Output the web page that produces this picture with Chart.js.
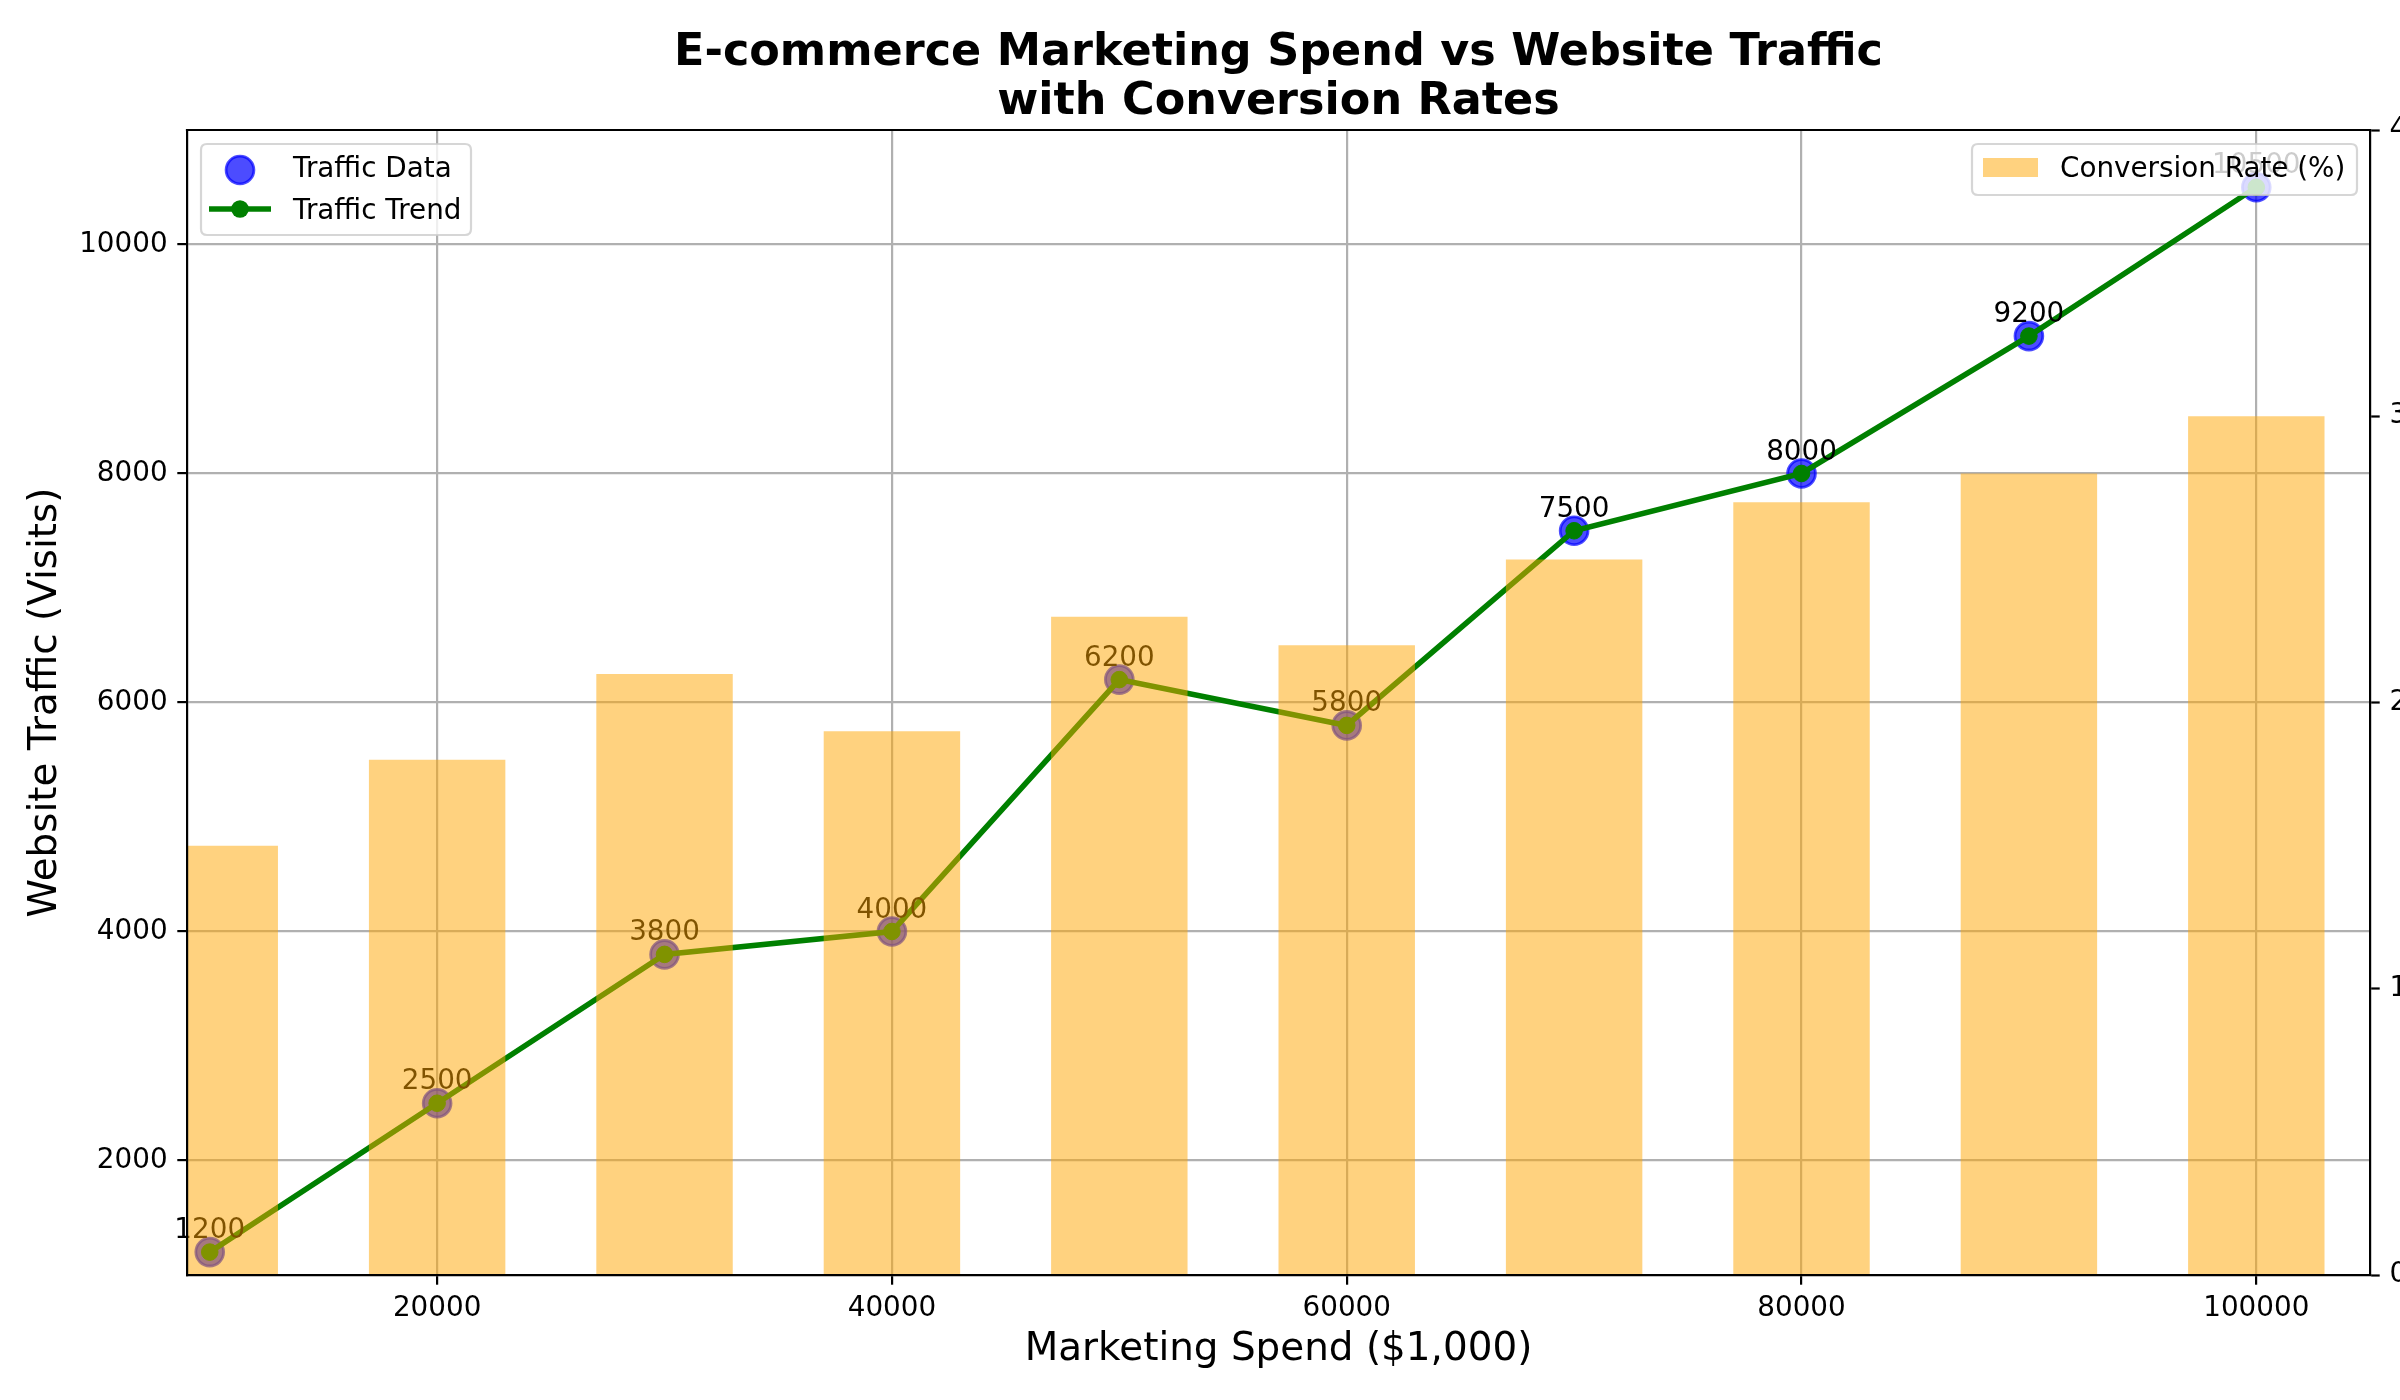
<!DOCTYPE html>
<html><head><meta charset="utf-8">
<script src="https://cdn.jsdelivr.net/npm/chart.js@4.4.0/dist/chart.umd.min.js"></script>
<style>html,body{margin:0;padding:0;background:#fff;overflow:hidden}canvas{display:block}</style>
</head><body>
<canvas id="c" width="2400" height="1400"></canvas>
<script>
// ---- data ----
const spend = [10000, 20000, 30000, 40000, 50000, 60000, 70000, 80000, 90000, 100000];
const traffic = [1200, 2500, 3800, 4000, 6200, 5800, 7500, 8000, 9200, 10500];
const conversion = [1.5, 1.8, 2.1, 1.9, 2.3, 2.2, 2.5, 2.7, 2.8, 3.0];
const xTicks = [20000, 40000, 60000, 80000, 100000];
const yTicks = [2000, 4000, 6000, 8000, 10000];
const y2Ticks = [0, 1, 2, 3, 4];
const titleLines = ['E-commerce Marketing Spend vs Website Traffic', 'with Conversion Rates'];

const FONT = "'DejaVu Sans', sans-serif";
Chart.defaults.font.family = FONT;
Chart.defaults.color = '#000';
const tickFont = {family: FONT, size: 27.8};
const GRID = '#b0b0b0';

function rr(ctx, x, y, w, h, r) {
  ctx.beginPath();
  ctx.moveTo(x + r, y);
  ctx.lineTo(x + w - r, y); ctx.quadraticCurveTo(x + w, y, x + w, y + r);
  ctx.lineTo(x + w, y + h - r); ctx.quadraticCurveTo(x + w, y + h, x + w - r, y + h);
  ctx.lineTo(x + r, y + h); ctx.quadraticCurveTo(x, y + h, x, y + h - r);
  ctx.lineTo(x, y + r); ctx.quadraticCurveTo(x, y, x + r, y);
  ctx.closePath();
}
function legendBox(ctx, x, y, w, h) {
  rr(ctx, x, y, w, h, 6);
  ctx.fillStyle = 'rgba(255,255,255,0.8)';
  ctx.fill();
  ctx.lineWidth = 2.2;
  ctx.strokeStyle = 'rgba(204,204,204,0.8)';
  ctx.stroke();
}

const annotPlugin = {
  id: 'annot',
  afterDatasetDraw(chart, args) {
    if (args.index !== 2) return;
    const ctx = chart.ctx;
    const meta = chart.getDatasetMeta(1);
    ctx.save();
    ctx.font = '27.8px ' + FONT;
    ctx.fillStyle = '#000';
    ctx.textAlign = 'center';
    ctx.textBaseline = 'alphabetic';
    meta.data.forEach((pt, i) => {
      ctx.fillText(String(traffic[i]), pt.x, pt.y - 14);
    });
    ctx.restore();
  }
};

const decorPlugin = {
  id: 'decor',
  beforeDraw(chart) {
    const ctx = chart.ctx;
    ctx.save();
    ctx.fillStyle = '#fff';
    ctx.fillRect(0, 0, chart.width, chart.height);
    ctx.restore();
  },
  afterDraw(chart) {
    const ctx = chart.ctx;
    const a = chart.chartArea;
    ctx.save();
    // top spine
    ctx.strokeStyle = '#000';
    ctx.lineWidth = 2.2;
    ctx.beginPath();
    ctx.moveTo(a.left - 1.1, a.top);
    ctx.lineTo(a.right + 1.1, a.top);
    ctx.stroke();
    // title
    ctx.fillStyle = '#000';
    ctx.textAlign = 'center';
    ctx.textBaseline = 'alphabetic';
    ctx.font = 'bold 44.5px ' + FONT;
    const cx = (a.left + a.right) / 2;
    ctx.fillText(titleLines[0], cx, 64.5);
    ctx.fillText(titleLines[1], cx, 113.5);
    // left legend
    legendBox(ctx, 201, 144, 270, 91);
    ctx.beginPath();
    ctx.arc(240, 170, 13.9, 0, Math.PI * 2);
    ctx.fillStyle = 'rgba(0,0,255,0.7)';
    ctx.fill();
    ctx.lineWidth = 2.8;
    ctx.strokeStyle = 'rgba(0,0,255,0.7)';
    ctx.stroke();
    ctx.beginPath();
    ctx.moveTo(209, 209); ctx.lineTo(271, 209);
    ctx.lineWidth = 5.56; ctx.strokeStyle = '#008000'; ctx.stroke();
    ctx.beginPath();
    ctx.arc(240, 209, 8.8, 0, Math.PI * 2);
    ctx.fillStyle = '#008000'; ctx.fill();
    ctx.font = '27.8px ' + FONT;
    ctx.fillStyle = '#000';
    ctx.textAlign = 'left';
    ctx.fillText('Traffic Data', 293, 177);
    ctx.fillText('Traffic Trend', 293, 219);
    // right legend
    legendBox(ctx, 1972, 144, 385, 51);
    ctx.fillStyle = 'rgba(255,165,0,0.5)';
    ctx.fillRect(1983, 158, 55, 19);
    ctx.fillStyle = '#000';
    ctx.fillText('Conversion Rate (%)', 2060, 177);
    ctx.restore();
  }
};

const pts = (ys) => spend.map((x, i) => ({x: x, y: ys[i]}));

new Chart(document.getElementById('c'), {
  data: {
    datasets: [
      {
        type: 'bar', label: 'Conversion Rate (%)', data: pts(conversion), yAxisID: 'y2', xAxisID: 'x',
        backgroundColor: 'rgba(255,165,0,0.5)', borderWidth: 0,
        barPercentage: 0.6, categoryPercentage: 1.0, order: 1
      },
      {
        type: 'scatter', label: 'Traffic Data', data: pts(traffic), yAxisID: 'y', xAxisID: 'x',
        pointRadius: 13.9, pointBackgroundColor: 'rgba(0,0,255,0.7)', pointBorderColor: 'rgba(0,0,255,0.7)',
        pointBorderWidth: 2.8, order: 3
      },
      {
        type: 'line', label: 'Traffic Trend', data: pts(traffic), yAxisID: 'y', xAxisID: 'x',
        borderColor: '#008000', borderWidth: 5.56, pointRadius: 8.3, pointBackgroundColor: '#008000',
        pointBorderColor: '#008000', pointBorderWidth: 1, tension: 0, fill: false, order: 2
      }
    ]
  },
  options: {
    responsive: false, animation: false, devicePixelRatio: 1,
    layout: {padding: {top: 130, left: 0, right: 0, bottom: 0}},
    plugins: {legend: {display: false}, tooltip: {enabled: false}, title: {display: false}},
    scales: {
      x: {
        type: 'linear', position: 'bottom', min: 9000, max: 105000, offset: false,
        afterBuildTicks: (ax) => { ax.ticks = xTicks.map(v => ({value: v})); },
        afterFit: (s) => { s.height = 125; },
        ticks: {callback: (v) => String(v), font: tickFont, padding: 7.8, maxRotation: 0, autoSkip: false, color: '#000'},
        grid: {color: GRID, lineWidth: 2.2, tickColor: '#000', tickLength: 9.7, tickWidth: 2.2, offset: false},
        border: {display: true, color: '#000', width: 2.2, z: 1},
        title: {display: true, text: 'Marketing Spend ($1,000)', font: {family: FONT, size: 38.9}, padding: {top: 0, bottom: 27}, color: '#000'}
      },
      y: {
        type: 'linear', position: 'left', min: 1000, max: 11000,
        afterBuildTicks: (ax) => { ax.ticks = yTicks.map(v => ({value: v})); },
        afterFit: (s) => { s.width = 187; },
        ticks: {callback: (v) => String(v), font: tickFont, padding: 9.7, color: '#000'},
        grid: {color: GRID, lineWidth: 2.2, tickColor: '#000', tickLength: 9.7, tickWidth: 2.2},
        border: {display: true, color: '#000', width: 2.2, z: 1},
        title: {display: true, text: 'Website Traffic (Visits)', font: {family: FONT, size: 38.9}, padding: {top: 22.7, bottom: 0}, color: '#000'}
      },
      y2: {
        type: 'linear', position: 'right', min: 0, max: 4,
        afterBuildTicks: (ax) => { ax.ticks = y2Ticks.map(v => ({value: v})); },
        afterFit: (s) => { s.width = 30; },
        ticks: {callback: (v) => String(v), font: tickFont, padding: 9.7, color: '#000'},
        grid: {drawOnChartArea: false, color: GRID, tickColor: '#000', tickLength: 9.7, tickWidth: 2.2},
        border: {display: true, color: '#000', width: 2.2, z: 1}
      }
    }
  },
  plugins: [annotPlugin, decorPlugin]
});
</script>
</body></html>
